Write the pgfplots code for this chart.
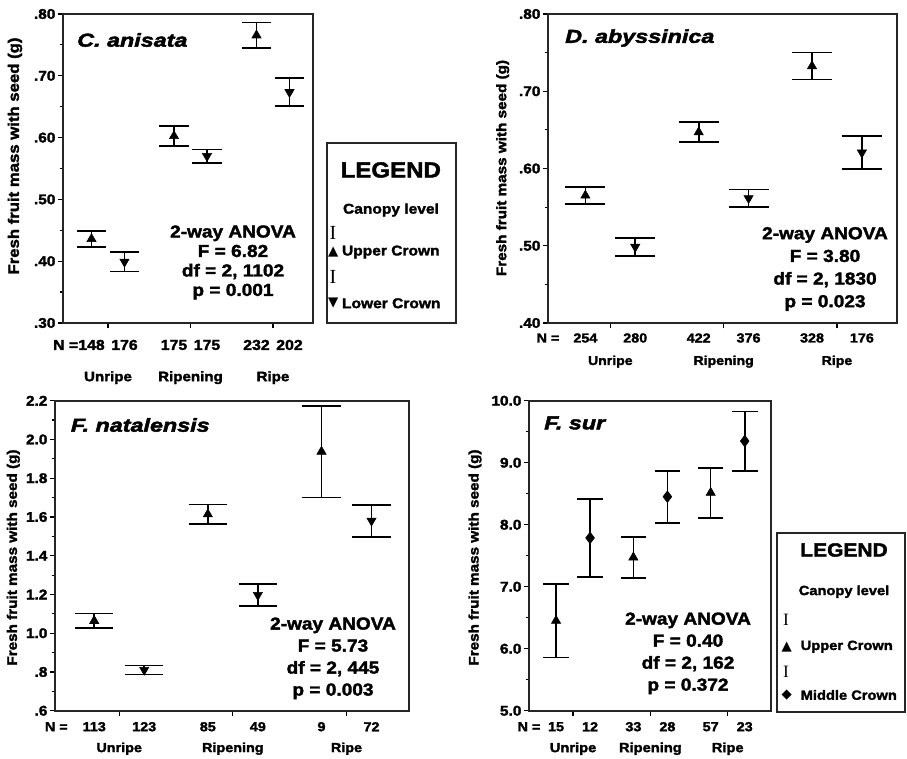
\documentclass[border=0pt]{standalone}
\usepackage{pgfplots}
\pgfplotsset{compat=1.18}
\usepackage{fontspec}
\setmainfont{Liberation Sans}
\newfontfamily\blk{Liberation Sans}[FakeStretch=1.1, FakeBold=2]
\newfontfamily\ttl{Liberation Sans}[FakeStretch=1.25, FakeBold=2.5]
\newfontfamily\sym{DejaVu Sans}
\newfontfamily\ibeam{Liberation Serif}
\newcommand\fs[1]{\fontsize{#1}{#1}\selectfont}
\pgfplotsset{
  panel/.style={scale only axis, anchor=south west, clip=false,
    axis line style={line width=1.2pt, black!85},
    tick style={black, line width=0.9pt},
    tick align=outside, xtick pos=bottom, ytick pos=left,
    major tick length=4pt, minor tick length=2.5pt,
    xtick={1,2,3}, xticklabels={,,},
    /pgf/number format/assume math mode=true,
    yticklabel style={font=\blk\bfseries\fs{10.5}, inner sep=1.5pt},
    minor y tick num=1},
  up/.style={only marks, black, mark=triangle*, mark size=4pt,
    error bars/.cd, y dir=both, y explicit,
    error bar style={line width=1.2pt},
    error mark options={rotate=90, line width=1.2pt, mark size=#1}},
  down/.style={only marks, black, mark=triangle*, mark size=4pt, mark options={rotate=180},
    error bars/.cd, y dir=both, y explicit,
    error bar style={line width=1.2pt},
    error mark options={rotate=90, line width=1.2pt, mark size=#1}},
  mid/.style={only marks, black, mark=diamond*, mark size=4.4pt,
    error bars/.cd, y dir=both, y explicit,
    error bar style={line width=1.2pt},
    error mark options={rotate=90, line width=1.2pt, mark size=#1}},
}
\begin{document}
\begin{tikzpicture}[x=1pt,y=1pt]
\useasboundingbox (0,0) rectangle (680.25,569.25);

% ---------------- Panel 1: C. anisata
\begin{axis}[panel, at={(47.25pt,327pt)}, width=187.5pt, height=231.75pt,
  xmin=0.4545, xmax=3.485, ymin=0.3, ymax=0.8,
  ytick={0.3,0.4,0.5,0.6,0.7,0.8}, yticklabels={.30,.40,.50,.60,.70,.80}]
\addplot[up=10.9pt] coordinates {(0.8,0.436) +- (0,0.013) (1.8,0.6025) +- (0,0.0165) (2.8,0.7655) +- (0,0.0205)};
\addplot[down=10.9pt] coordinates {(1.2,0.399) +- (0,0.016) (2.2,0.570) +- (0,0.011) (3.2,0.6735) +- (0,0.0225)};
\begin{scope}[every node/.style={font=\blk\bfseries\fs{10.8}}]
\node at (rel axis cs:0,0) [xshift=2pt,yshift=-16.5pt] {N =};
\node at (axis cs:0.8,0.3) [yshift=-16.5pt] {148};
\node at (axis cs:1.2,0.3) [yshift=-16.5pt] {176};
\node at (axis cs:1.8,0.3) [yshift=-16.5pt] {175};
\node at (axis cs:2.2,0.3) [yshift=-16.5pt] {175};
\node at (axis cs:2.8,0.3) [yshift=-16.5pt] {232};
\node at (axis cs:3.2,0.3) [yshift=-16.5pt] {202};
\end{scope}
\begin{scope}[every node/.style={font=\blk\bfseries\fs{10.3}}]
\node at (axis cs:1,0.3) [yshift=-41pt] {Unripe};
\node at (axis cs:2,0.3) [yshift=-41pt] {Ripening};
\node at (axis cs:3,0.3) [yshift=-41pt] {Ripe};
\end{scope}
\end{axis}

% ---------------- Panel 2: D. abyssinica
\begin{axis}[panel, at={(411pt,327pt)}, width=261.75pt, height=231.75pt,
  xmin=0.45, xmax=3.53, ymin=0.4, ymax=0.8,
  ytick={0.4,0.5,0.6,0.7,0.8}, yticklabels={.40,.50,.60,.70,.80}]
\addplot[up=15pt] coordinates {(0.78,0.565) +- (0,0.011) (1.78,0.647) +- (0,0.013) (2.78,0.7325) +- (0,0.0175)};
\addplot[down=15pt] coordinates {(1.22,0.4985) +- (0,0.0115) (2.22,0.5615) +- (0,0.0115) (3.22,0.6205) +- (0,0.0215)};
\begin{scope}[every node/.style={font=\blk\bfseries\fs{9.8}}]
\node at (rel axis cs:0,0) [yshift=-11.25pt] {N =};
\node at (axis cs:0.78,0.4) [yshift=-11.25pt] {254};
\node at (axis cs:1.22,0.4) [yshift=-11.25pt] {280};
\node at (axis cs:1.78,0.4) [yshift=-11.25pt] {422};
\node at (axis cs:2.22,0.4) [yshift=-11.25pt] {376};
\node at (axis cs:2.78,0.4) [yshift=-11.25pt] {328};
\node at (axis cs:3.22,0.4) [yshift=-11.25pt] {176};
\end{scope}
\begin{scope}[every node/.style={font=\blk\bfseries\fs{9.6}}]
\node at (axis cs:1,0.4) [yshift=-29pt] {Unripe};
\node at (axis cs:2,0.4) [yshift=-29pt] {Ripening};
\node at (axis cs:3,0.4) [yshift=-29pt] {Ripe};
\end{scope}
\end{axis}

% ---------------- Panel 3: F. natalensis
\begin{axis}[panel, at={(41.25pt,36.2pt)}, width=265.5pt, height=232.5pt,
  xmin=0.435, xmax=3.55, ymin=0.6, ymax=2.2,
  ytick={0.6,0.8,1.0,1.2,1.4,1.6,1.8,2.0,2.2}, yticklabels={.6,.8,1.0,1.2,1.4,1.6,1.8,2.0,2.2}]
\addplot[up=14.4pt] coordinates {(0.78,1.064) +- (0,0.037) (1.78,1.614) +- (0,0.051) (2.78,1.9375) +- (0,0.2365)};
\addplot[down=14.4pt] coordinates {(1.22,0.8105) +- (0,0.0235) (2.22,1.197) +- (0,0.057) (3.22,1.5805) +- (0,0.0825)};
\begin{scope}[every node/.style={font=\blk\bfseries\fs{9.8}}]
\node at (rel axis cs:0,0) [xshift=1pt,yshift=-12pt] {N =};
\node at (axis cs:0.78,0.6) [yshift=-12pt] {113};
\node at (axis cs:1.22,0.6) [yshift=-12pt] {123};
\node at (axis cs:1.78,0.6) [yshift=-12pt] {85};
\node at (axis cs:2.22,0.6) [yshift=-12pt] {49};
\node at (axis cs:2.78,0.6) [yshift=-12pt] {9};
\node at (axis cs:3.22,0.6) [yshift=-12pt] {72};
\end{scope}
\begin{scope}[every node/.style={font=\blk\bfseries\fs{9.8}}]
\node at (axis cs:1,0.6) [yshift=-28.5pt] {Unripe};
\node at (axis cs:2,0.6) [yshift=-28.5pt] {Ripening};
\node at (axis cs:3,0.6) [yshift=-28.5pt] {Ripe};
\end{scope}
\end{axis}

% ---------------- Panel 4: F. sur
\begin{axis}[panel, at={(396.75pt,36.2pt)}, width=181.5pt, height=232.5pt,
  xmin=0.43, xmax=3.56, ymin=5, ymax=10,
  ytick={5,6,7,8,9,10}, yticklabels={5.0,6.0,7.0,8.0,9.0,10.0}]
\addplot[up=9.6pt] coordinates {(0.78,6.4515) +- (0,0.5915) (1.78,7.473) +- (0,0.333) (2.78,8.516) +- (0,0.403)};
\addplot[mid=9.6pt] coordinates {(1.22,7.7875) +- (0,0.6315) (2.22,8.4515) +- (0,0.4195) (3.22,9.3495) +- (0,0.4785)};
\begin{scope}[every node/.style={font=\blk\bfseries\fs{9.8}}]
\node at (rel axis cs:0,0) [yshift=-12pt] {N =};
\node at (axis cs:0.78,5) [yshift=-12pt] {15};
\node at (axis cs:1.22,5) [yshift=-12pt] {12};
\node at (axis cs:1.78,5) [yshift=-12pt] {33};
\node at (axis cs:2.22,5) [yshift=-12pt] {28};
\node at (axis cs:2.78,5) [yshift=-12pt] {57};
\node at (axis cs:3.22,5) [yshift=-12pt] {23};
\end{scope}
\begin{scope}[every node/.style={font=\blk\bfseries\fs{10}}]
\node at (axis cs:1,5) [yshift=-28.5pt] {Unripe};
\node at (axis cs:2,5) [yshift=-28.5pt] {Ripening};
\node at (axis cs:3,5) [yshift=-28.5pt] {Ripe};
\end{scope}
\end{axis}

% ---------------- y labels
\node[rotate=90, font=\blk\bfseries\fs{11.4}] at (11.25,452.25) {Fresh fruit mass with seed (g)};
\node[rotate=90, font=\blk\bfseries\fs{10.4}] at (377,443.25) {Fresh fruit mass with seed (g)};
\node[rotate=90, font=\blk\bfseries\fs{10.4}] at (10,151.1) {Fresh fruit mass with seed (g)};
\node[rotate=90, font=\blk\bfseries\fs{10.4}] at (356.25,151.1) {Fresh fruit mass with seed (g)};

% ---------------- species titles
\node[anchor=west, inner sep=0pt, font=\ttl\bfseries\itshape\fs{14}] at (57.75,539.25) {C. anisata};
\node[anchor=west, inner sep=0pt, font=\ttl\bfseries\itshape\fs{14}] at (423.75,540.75) {D. abyssinica};
\node[anchor=west, inner sep=0pt, font=\ttl\bfseries\itshape\fs{14}] at (53,250.5) {F. natalensis};
\node[anchor=west, inner sep=0pt, font=\ttl\bfseries\itshape\fs{14}] at (408,252) {F. sur};

% ---------------- ANOVA texts
\node[align=center, font=\blk\bfseries\fontsize{13}{14.6}\selectfont] at (174.75,372.4) {2-way ANOVA\\F = 6.82\\df = 2, 1102\\p = 0.001};
\node[align=center, font=\blk\bfseries\fontsize{13}{17}\selectfont] at (618.75,367.5) {2-way ANOVA\\F = 3.80\\df = 2, 1830\\p = 0.023};
\node[align=center, font=\blk\bfseries\fontsize{13}{16.5}\selectfont] at (249.75,75.5) {2-way ANOVA\\F = 5.73\\df = 2, 445\\p = 0.003};
\node[align=center, font=\blk\bfseries\fontsize{13}{16.5}\selectfont] at (516,79.2) {2-way ANOVA\\F = 0.40\\df = 2, 162\\p = 0.372};

% ---------------- Legend 1
\draw[line width=1.3pt, black!85] (245,327) rectangle (342,461.8);
\node[font=\blk\bfseries\fs{16.4}] at (293.1,441.75) {LEGEND};
\node[font=\blk\bfseries\fs{10.6}] at (293.25,411.75) {Canopy level};
\node[font=\ibeam\fs{15}] at (249.75,394.5) {I};
\node[font=\sym\fs{10}] at (250,380.25) {▲};
\node[anchor=west, font=\blk\bfseries\fs{10.6}] at (253,380.25) {Upper Crown};
\node[font=\ibeam\fs{15}] at (249.75,361.7) {I};
\node[font=\sym\fs{10}] at (250,341.8) {▼};
\node[anchor=west, font=\blk\bfseries\fs{10.6}] at (253,341.8) {Lower Crown};

% ---------------- Legend 2
\draw[line width=1.3pt, black!85] (582.5,35.25) rectangle (678.75,169.7);
\node[font=\blk\bfseries\fs{14.3}] at (633,156.75) {LEGEND};
\node[font=\blk\bfseries\fs{10}] at (633,125.5) {Canopy level};
\node[font=\ibeam\fs{13}] at (589.5,104.25) {I};
\node[font=\sym\fs{10}] at (590,84.2) {▲};
\node[anchor=west, font=\blk\bfseries\fs{10}] at (597,84.2) {Upper Crown};
\node[font=\ibeam\fs{13}] at (589.5,65.5) {I};
\node[font=\sym\fs{10}] at (590,48) {◆};
\node[anchor=west, font=\blk\bfseries\fs{10}] at (597,48) {Middle Crown};
\end{tikzpicture}
\end{document}
